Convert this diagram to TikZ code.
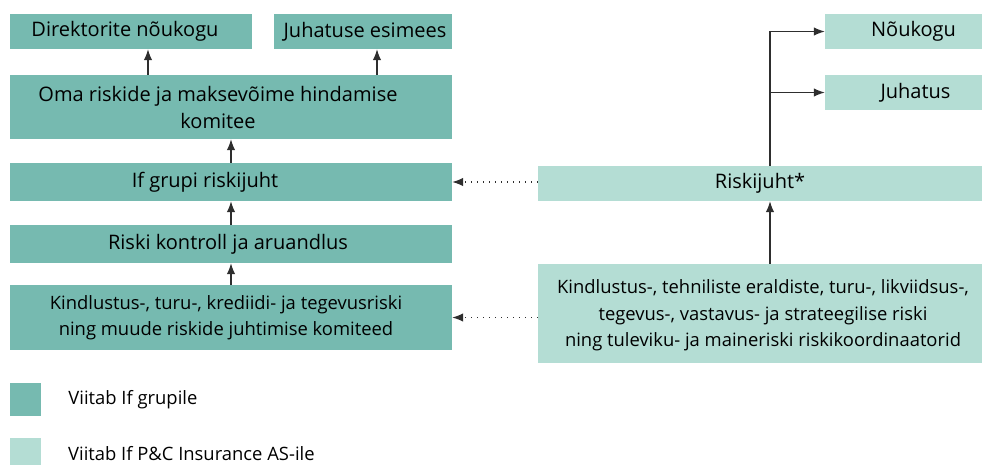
\documentclass[tikz,border=0pt]{standalone}
\usepackage{fontspec}
\setmainfont{Open Sans}
\usetikzlibrary{arrows.meta}

\definecolor{ifgroup}{HTML}{76BAB0}
\definecolor{ifpc}{HTML}{B4DDD4}
\definecolor{arrowgray}{HTML}{2E2E2E}

\begin{document}
\begin{tikzpicture}[x=1pt,y=-1pt,
    box/.style={anchor=center,rectangle,inner sep=0pt,draw=none},
    group/.style={box,fill=ifgroup},
    pc/.style={box,fill=ifpc},
    boxtext/.style={align=center,inner sep=0pt,
      font=\fontsize{20}{27}\selectfont},
    smalltext/.style={boxtext,font=\fontsize{18.4}{26.5}\selectfont},
    arr/.style={draw=arrowgray,line width=1.2pt,
      -{Latex[length=11pt,width=8.5pt]}},
    dotarr/.style={arr,dash pattern=on 1.2pt off 4.8pt}]

    \useasboundingbox (0,0) rectangle (982,464);

    \coordinate (dirx) at (148,0);
    \coordinate (juhx) at (377,0);
    \coordinate (midx) at (231,0);
    \coordinate (rjx) at (770,0);

    % If grupp
    \node [group,minimum width=242pt,minimum height=35pt,
    label={[boxtext,xshift=-6pt]center:{Direktorite nõukogu}}] (dir) at (131,31.5) {};

    \node [group,minimum width=178pt,minimum height=35pt,
    label={[boxtext,xshift=2pt]center:{Juhatuse esimees}}] (juh) at (363,31.5) {};

    \node [group,minimum width=442pt,minimum height=64pt,
    label={[boxtext,xshift=-13pt]center:{Oma riskide ja maksevõime hindamise\\komitee}}] (oma) at (231,107) {};

    \node [group,minimum width=442pt,minimum height=38pt,
    label={[boxtext,xshift=-26pt]center:{If grupi riskijuht}}] (grupi) at (231,182) {};

    \node [group,minimum width=442pt,minimum height=38pt,
    label={[boxtext,xshift=-3pt]center:{Riski kontroll ja aruandlus}}] (kontroll) at (231,244) {};

    \node [group,minimum width=442pt,minimum height=65pt,
    label={[smalltext,xshift=-5pt]center:{Kindlustus-, turu-, krediidi- ja tegevusriski\\ning muude riskide juhtimise komiteed}}] (kom) at (231,317.5) {};

    % If P&C Insurance AS
    \node [pc,minimum width=444pt,minimum height=35pt,
    label={[boxtext]center:{Riskijuht*}}] (rj) at (760,183.5) {};

    \node [pc,minimum width=444pt,minimum height=99pt,
    label={[smalltext,xshift=3pt,yshift=-2pt]center:{Kindlustus-, tehniliste eraldiste, turu-, likviidsus-,\\tegevus-, vastavus- ja strateegilise riski\\ning tuleviku- ja maineriski riskikoordinaatorid}}] (koord) at (760,313.5) {};

    \node [pc,minimum width=157pt,minimum height=35pt,
    label={[boxtext,xshift=10pt]center:{Nõukogu}}] (nou) at (903.5,31.5) {};

    \node [pc,minimum width=157pt,minimum height=35pt,
    label={[boxtext,xshift=12pt]center:{Juhatus}}] (juhatus) at (903.5,92.5) {};

    % legend
    \node [group,minimum width=31pt,minimum height=33pt,
    label={[smalltext,anchor=west,xshift=27pt]east:{Viitab If grupile}}] (leg1) at (25.5,399.5) {};

    \node [pc,minimum width=31pt,minimum height=33pt] (leg2) at (25.5,454.5) {};
    \node [smalltext,anchor=west] (leg2text) at (68,454) {Viitab If P\&C Insurance AS-ile};

    % connectors
    \draw [arr] (oma.north -| dirx) -- (dir.south -| dirx);
    \draw [arr] (oma.north -| juhx) -- (juh.south -| juhx);
    \draw [arr] (grupi.north -| midx) -- (oma.south -| midx);
    \draw [arr] (kontroll.north -| midx) -- (grupi.south -| midx);
    \draw [arr] (kom.north -| midx) -- (kontroll.south -| midx);

    \draw [dotarr] (rj.west |- grupi.east) -- (grupi.east);
    \draw [dotarr] (koord.west |- kom.east) -- (kom.east);

    \draw [arr] (koord.north -| rjx) -- (rj.south -| rjx);
    \draw [arr] (rj.north -| rjx) |- (nou.west);
    \draw [arr] (rjx |- juhatus.west) -- (juhatus.west);
  \end{tikzpicture}
\end{document}
